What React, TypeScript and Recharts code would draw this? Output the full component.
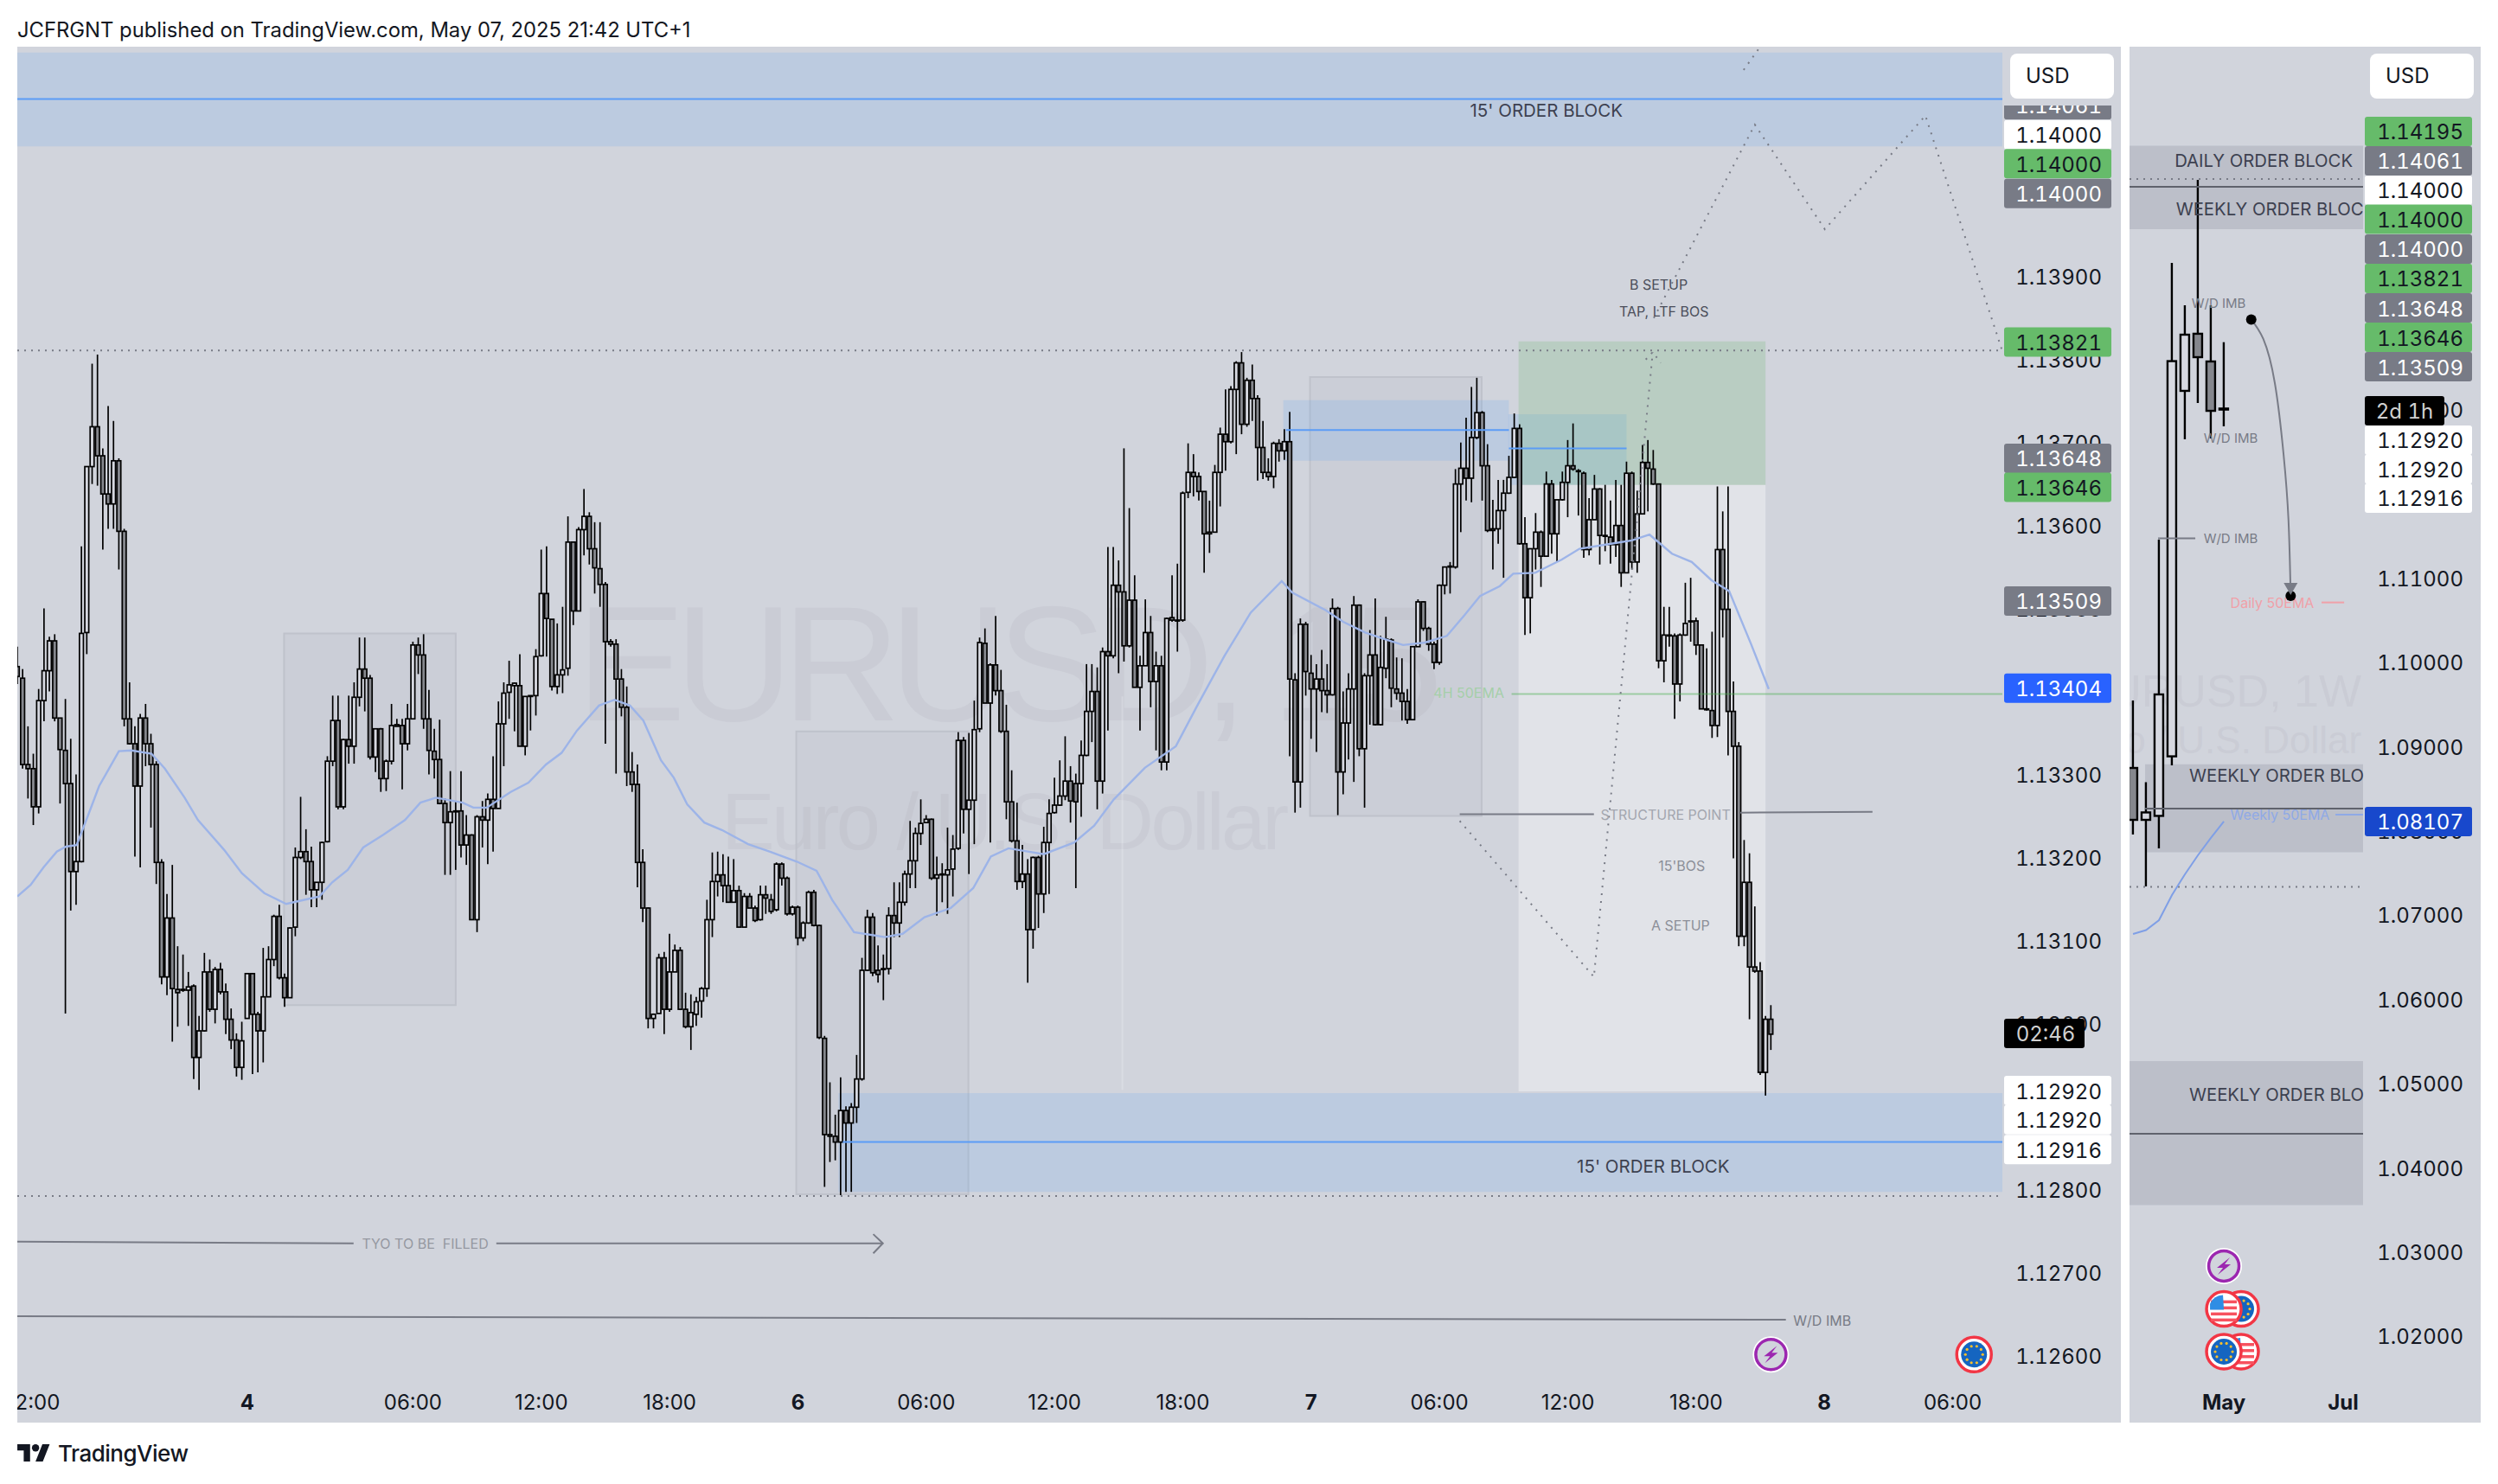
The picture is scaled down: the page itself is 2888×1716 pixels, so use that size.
import { Bar, ComposedChart, Line, ReferenceArea, ReferenceDot, ReferenceLine, XAxis, YAxis } from "recharts";

// 15 minute EURUSD candles, values are (price - 1) * 100000
const opens = [
  13430,13416,13312,13307,13261,13389,13425,13461,13368,13329,13289,13183,13195,13471,13671,13719,13684,13638,13626,13678,
  13593,13367,13337,13286,13368,13337,13312,13194,13056,13127,13041,13040,13040,13045,12959,12991,13062,13017,13065,13038,
  13005,12980,12947,13006,13060,13011,12991,13032,13077,13129,13055,13031,13116,13200,13207,13195,13161,13170,13219,13316,
  13365,13261,13342,13334,13393,13427,13416,13321,13355,13295,13316,13360,13359,13337,13367,13456,13444,13367,13328,13318,
  13265,13242,13255,13256,13215,13227,13125,13249,13245,13270,13259,13361,13399,13407,13407,13334,13395,13395,13443,13518,
  13487,13406,13420,13428,13580,13497,13595,13611,13572,13548,13529,13460,13457,13415,13381,13303,13288,13194,13139,13006,
  13012,13079,13017,13062,13088,13017,12996,13011,13027,13042,13125,13171,13179,13166,13146,13160,13116,13153,13139,13125,
  13155,13149,13137,13192,13175,13132,13140,13103,13121,13158,13118,12982,12866,12864,12857,12895,12880,12899,12933,13064,
  13128,13064,13065,13066,13130,13121,13146,13180,13196,13229,13242,13246,13175,13179,13179,13186,13211,13341,13258,13269,
  13355,13458,13386,13432,13401,13352,13267,13220,13171,13180,13113,13200,13156,13218,13254,13263,13274,13292,13289,13289,
  13323,13376,13400,13292,13448,13443,13528,13520,13455,13510,13405,13431,13471,13412,13431,13315,13489,13486,13486,13640,
  13664,13659,13641,13590,13592,13664,13710,13701,13764,13796,13722,13775,13753,13694,13664,13659,13699,13690,13701,13414,
  13291,13481,13422,13403,13415,13401,13396,13500,13303,13362,13403,13504,13331,13419,13444,13360,13428,13462,13403,13398,
  13388,13366,13454,13508,13476,13457,13435,13528,13550,13550,13650,13669,13657,13706,13736,13672,13596,13596,13618,13639,
  13658,13717,13578,13513,13572,13592,13563,13650,13590,13631,13652,13672,13666,13663,13571,13607,13644,13588,13586,13577,
  13600,13543,13663,13556,13614,13676,13668,13650,13437,13468,13467,13409,13468,13484,13485,13456,13379,13377,13359,13571,
  13499,13376,13334,13105,13170,13068,13063,12941,13005,
];
const highs = [
  13454,13427,13358,13325,13403,13500,13466,13469,13368,13391,13343,13300,13575,13671,13795,13806,13693,13744,13726,13681,
  13596,13411,13358,13373,13385,13349,13316,13198,13156,13191,13093,13083,13062,13047,13009,13085,13077,13068,13073,13048,
  13018,12988,13002,13060,13060,13014,13091,13093,13131,13143,13060,13116,13212,13273,13234,13213,13170,13219,13322,13395,
  13395,13343,13395,13411,13465,13465,13420,13355,13356,13318,13385,13367,13367,13385,13460,13465,13469,13402,13355,13366,
  13271,13304,13268,13304,13251,13228,13251,13268,13277,13322,13388,13411,13437,13411,13445,13394,13395,13451,13571,13575,
  13487,13482,13502,13611,13580,13598,13644,13616,13604,13604,13532,13463,13463,13427,13406,13327,13312,13210,13140,13012,
  13084,13086,13108,13095,13092,13037,13035,13032,13044,13149,13206,13207,13204,13201,13198,13166,13157,13157,13142,13166,
  13166,13156,13194,13194,13177,13142,13142,13123,13160,13161,13119,12985,12929,12890,12935,12900,12904,12962,13079,13137,
  13133,13094,13083,13140,13170,13170,13184,13244,13236,13270,13251,13247,13201,13193,13236,13227,13351,13345,13350,13389,
  13465,13476,13434,13491,13426,13384,13305,13266,13215,13198,13201,13202,13237,13270,13296,13317,13346,13310,13301,13341,
  13433,13433,13429,13453,13574,13574,13558,13693,13621,13540,13443,13511,13491,13448,13443,13489,13540,13554,13641,13699,
  13686,13664,13641,13630,13673,13718,13764,13768,13798,13809,13778,13794,13757,13726,13681,13701,13704,13716,13737,13422,
  13488,13484,13444,13433,13450,13433,13512,13502,13400,13422,13515,13505,13422,13474,13512,13467,13490,13464,13441,13440,
  13403,13454,13511,13509,13478,13460,13529,13550,13556,13668,13700,13730,13767,13778,13738,13698,13631,13655,13655,13684,
  13735,13722,13610,13572,13615,13594,13665,13655,13631,13665,13703,13723,13668,13665,13633,13661,13645,13649,13630,13655,
  13649,13677,13665,13642,13697,13703,13691,13650,13502,13502,13470,13470,13531,13537,13489,13456,13452,13472,13647,13617,
  13647,13412,13339,13221,13205,13141,13074,13009,13022,
];
const lows = [
  13409,13307,13271,13239,13253,13364,13400,13364,13265,13012,13136,13143,13194,13445,13650,13648,13571,13596,13596,13547,
  13358,13336,13201,13188,13310,13236,13168,13047,13034,12978,12996,13038,12997,12933,12920,12990,13014,13000,13035,12987,
  12969,12936,12932,13006,12939,12941,12953,13032,13069,13053,13020,13031,13105,13198,13155,13140,13140,13149,13218,13310,
  13258,13258,13313,13313,13382,13376,13318,13303,13279,13280,13312,13358,13282,13329,13367,13421,13355,13300,13295,13264,
  13179,13179,13185,13200,13191,13125,13110,13212,13192,13207,13259,13310,13367,13352,13334,13323,13353,13371,13442,13442,
  13401,13397,13398,13419,13480,13497,13564,13553,13518,13502,13337,13454,13301,13370,13286,13279,13164,13122,12994,12994,
  13012,12987,13014,13062,13016,12994,12968,12997,13007,13032,13104,13153,13146,13146,13146,13116,13116,13139,13122,13124,
  13132,13132,13135,13166,13130,13130,13094,13099,13120,13117,12981,12803,12833,12835,12793,12797,12797,12880,12931,13063,
  13057,13049,13028,13059,13104,13104,13142,13163,13163,13215,13242,13173,13130,13146,13132,13153,13209,13229,13180,13216,
  13351,13386,13218,13395,13350,13246,13218,13161,13163,13049,13090,13115,13133,13156,13253,13262,13269,13242,13163,13249,
  13322,13339,13258,13277,13353,13440,13422,13436,13453,13405,13353,13431,13381,13329,13305,13305,13484,13448,13484,13633,
  13635,13630,13543,13567,13592,13623,13666,13699,13686,13710,13719,13726,13654,13656,13654,13645,13677,13679,13322,13254,
  13260,13395,13343,13327,13375,13374,13395,13251,13276,13318,13291,13322,13260,13360,13359,13359,13416,13381,13390,13365,
  13361,13366,13454,13473,13449,13427,13432,13517,13518,13548,13592,13630,13628,13704,13630,13592,13547,13578,13537,13638,
  13657,13577,13468,13470,13547,13526,13563,13566,13556,13630,13610,13666,13612,13561,13564,13607,13553,13569,13554,13562,
  13526,13543,13547,13543,13614,13617,13649,13428,13411,13454,13367,13388,13467,13460,13444,13379,13377,13344,13345,13465,
  13323,13199,13093,13093,13005,13061,12938,12913,12968,
];
const closes = [
  13418,13312,13307,13261,13389,13425,13461,13368,13330,13289,13183,13195,13470,13671,13719,13684,13638,13626,13678,13593,
  13367,13337,13286,13368,13337,13312,13194,13056,13127,13042,13037,13041,13044,12959,12991,13062,13017,13065,13038,13005,
  12980,12947,12979,13060,13011,12991,13032,13077,13129,13055,13031,13115,13200,13207,13195,13161,13170,13218,13316,13365,
  13261,13342,13334,13393,13427,13416,13321,13355,13295,13316,13359,13358,13337,13367,13456,13444,13367,13329,13318,13265,
  13242,13255,13256,13215,13227,13125,13249,13245,13270,13259,13361,13398,13408,13410,13334,13394,13394,13442,13518,13488,
  13406,13420,13426,13580,13497,13595,13611,13572,13549,13529,13460,13457,13415,13381,13303,13288,13194,13139,13006,13011,
  13079,13017,13062,13088,13017,12996,13013,13026,13042,13125,13171,13179,13166,13146,13160,13116,13153,13139,13124,13155,
  13151,13135,13192,13175,13132,13140,13103,13121,13158,13118,12983,12866,12864,12857,12895,12880,12899,12933,13064,13128,
  13061,13059,13066,13130,13121,13146,13180,13196,13229,13241,13246,13175,13179,13180,13185,13210,13341,13258,13269,13354,
  13459,13386,13432,13401,13352,13267,13220,13171,13180,13113,13200,13156,13218,13253,13263,13274,13292,13268,13267,13323,
  13376,13400,13292,13448,13443,13528,13520,13455,13510,13405,13431,13471,13412,13431,13315,13488,13486,13486,13639,13664,
  13659,13641,13590,13592,13664,13710,13701,13764,13796,13722,13775,13753,13694,13664,13659,13699,13690,13701,13415,13291,
  13481,13424,13403,13415,13401,13396,13500,13303,13362,13403,13504,13331,13419,13444,13360,13429,13463,13404,13398,13388,
  13366,13454,13508,13476,13457,13435,13528,13550,13551,13650,13669,13657,13706,13736,13672,13594,13594,13618,13639,13658,
  13717,13578,13513,13572,13592,13563,13650,13590,13631,13652,13672,13668,13665,13571,13607,13644,13588,13587,13577,13600,
  13543,13663,13556,13614,13676,13669,13650,13437,13468,13467,13409,13468,13482,13485,13456,13379,13379,13359,13571,13499,
  13376,13334,13105,13170,13068,13063,12941,13005,12987,
];

// 50 EMA on the 15 minute pane, read at these bar positions
const emaBars = [
  0,2.5,4.9,7.4,9.1,11.1,13.2,15.3,16.9,19,21.4,25.1,27.6,31.3,33.8,38.7,42,46.2,50.3,54.4,56.5,58.9,61.8,64.7,68.4,72.5,75.4,78.3,83.3,85.3,87.8,92.3,95.6,98.9,101.8,104.7,108.8,111.7,114.6,117.1,120.4,122.8,125.3,
  128.5,131.8,136.7,140.8,145.8,149.5,152.4,156.5,162.3,165.6,169.7,174.6,178.8,182.1,185.4,192,197.7,201.4,205.1,210.9,216.7,220.8,225.8,230.7,236.5,238.5,244.7,248,252.1,255.3,
  259.2,263.3,267.4,270.7,273.6,277.3,279.8,283.9,288.9,292.2,297.1,302,305.3,309.5,313.2,316.9,320.2,324.3,327.6,
];
const emaValues = [
  13153,13167,13188,13207,13213,13215,13250,13286,13304,13328,13329,13325,13307,13272,13245,13209,13181,13157,13144,13150,13153,13170,13185,13212,13227,13245,13266,13272,13266,13260,13260,13279,13290,13312,13326,13353,13383,13390,13383,13365,13317,13296,13264,
  13242,13233,13216,13207,13195,13184,13149,13110,13104,13108,13128,13139,13163,13201,13211,13204,13218,13238,13270,13308,13334,13384,13443,13495,13533,13519,13498,13484,13471,13464,
  13456,13459,13467,13492,13515,13527,13542,13543,13559,13572,13577,13582,13589,13566,13556,13534,13521,13457,13403,
];

// weekly pane
const weekOpens = [1.08745, 1.08129, 1.08176, 1.08883, 1.13222, 1.139, 1.13571, 1.13012];
const weekHighs = [1.09546, 1.08576, 1.11456, 1.14741, 1.14238, 1.15727, 1.14238, 1.138];
const weekLows = [1.07955, 1.07339, 1.07791, 1.08776, 1.12647, 1.13078, 1.12657, 1.12801];
const weekCloses = [1.08129, 1.08217, 1.09618, 1.13575, 1.13889, 1.13622, 1.12985, 1.13];
const weekEma = [1.06774, 1.0682, 1.06938, 1.07236, 1.07483, 1.07708, 1.07914, 1.08109];

const dayTicks = [3, 43, 74, 98, 122, 146, 170, 194, 218, 242, 266, 290, 314, 338, 362];
const dayTickLabels = ["12:00", "4", "06:00", "12:00", "18:00", "6", "06:00", "12:00", "18:00", "7", "06:00", "12:00", "18:00", "8", "06:00"];
const dayPriceTicks = [1.14, 1.139, 1.138, 1.137, 1.136, 1.135, 1.134, 1.133, 1.132, 1.131, 1.13, 1.129, 1.128, 1.127, 1.126];
const weekTicks = [7, 16.2];
const weekTickLabels = ["May", "Jul"];
const weekPriceTicks = [1.14, 1.13, 1.12, 1.11, 1.1, 1.09, 1.08, 1.07, 1.06, 1.05, 1.04, 1.03, 1.02];

const dayTagLabels = ["1.14061", "1.14000", "1.14000", "1.14000", "1.13821", "1.13648", "1.13646", "1.13509", "1.13404", "1.12920", "1.12920", "1.12916"];
const dayTagLevels = [1.14107, 1.14071, 1.14036, 1.14, 1.13821, 1.13681, 1.13646, 1.13509, 1.13404, 1.12919, 1.12884, 1.12848];
const dayTagKinds = ["gray", "white", "green", "gray", "green", "gray", "green", "gray", "blue", "white", "white", "white"];
const weekTagLabels = ["1.14195", "1.14061", "1.14000", "1.14000", "1.14000", "1.13821", "1.13648", "1.13646", "1.13509", "1.12920", "1.12920", "1.12916", "1.08107"];
const weekTagLevels = [1.16302, 1.15953, 1.15604, 1.1526, 1.14906, 1.14557, 1.14207, 1.13858, 1.13509, 1.12637, 1.12293, 1.11949, 1.08109];
const weekTagKinds = ["green", "gray", "white", "green", "gray", "green", "gray", "green", "gray", "white", "white", "white", "deep"];

const dayRows = opens.map((open, i) => ({
  x: i,
  open: 1 + open / 1e5,
  high: 1 + highs[i] / 1e5,
  low: 1 + lows[i] / 1e5,
  close: 1 + closes[i] / 1e5,
}));
const dayEma = emaBars.map((x, i) => ({ x, y: 1 + emaValues[i] / 1e5 }));
const weekRows = weekOpens.map((open, i) => ({
  x: i,
  open,
  high: weekHighs[i],
  low: weekLows[i],
  close: weekCloses[i],
  ema: weekEma[i],
}));

const setupDown = [{ x: 269.8, y: 1.13244 }, { x: 294.9, y: 1.13056 }, { x: 305.9, y: 1.13809 }];
const setupHead = [{ x: 304.6, y: 1.138 }, { x: 305.9, y: 1.13809 }, { x: 307.4, y: 1.13796 }];
const setupUp = [{ x: 306.1, y: 1.1385 }, { x: 325, y: 1.14083 }, { x: 338.1, y: 1.13957 }, { x: 356.9, y: 1.14094 }, { x: 371.3, y: 1.1381 }];
const setupTop = [{ x: 322.9, y: 1.14149 }, { x: 325.9, y: 1.14176 }];
const tyoHead = [{ x: 160.1, y: 1.12746 }, { x: 161.9, y: 1.12735 }, { x: 160.1, y: 1.12723 }];
const weekCurve = [{ x: 9.11, y: 1.14068 }, { x: 10.04, y: 1.13838 }, { x: 10.93, y: 1.13314 }, { x: 11.6, y: 1.12472 }, { x: 11.98, y: 1.11692 }, { x: 12.15, y: 1.10789 }];

const PANE = "#d1d4dc";
const FONT = "Inter, 'Noto Sans', sans-serif";
const GRAY = "#787b86";
const BLUE = "#5b9cf6";
const DAY_MAX = 371.3;
const DAY_DOMAIN = [1.1257, 1.14177];
const WEEK_MIN = -0.27;
const WEEK_MAX = 17.73;
const WEEK_DOMAIN = [1.01476, 1.17308];

const tagStyles: Record<string, { bg: string; fg: string }> = {
  gray: { bg: "#787b86", fg: "#ffffff" },
  white: { bg: "#ffffff", fg: "#131722" },
  green: { bg: "#66bb6a", fg: "#131722" },
  blue: { bg: "#2962ff", fg: "#ffffff" },
  deep: { bg: "#1848cc", fg: "#ffffff" },
  black: { bg: "#000000", fg: "#d0d0d0" },
};

function candleShape(bodyWidth: number, strokeWidth: number) {
  return (props: any) => {
    const { x, y, width, height, payload } = props;
    const cx = x + width / 2;
    const k = height / (payload.high - payload.low);
    const yOpen = y + (payload.high - payload.open) * k;
    const yClose = y + (payload.high - payload.close) * k;
    const top = Math.min(yOpen, yClose);
    const bodyHeight = Math.max(Math.abs(yOpen - yClose), 1);
    const up = payload.close >= payload.open;
    return (
      <g>
        <line x1={cx} x2={cx} y1={y} y2={y + height} stroke="#000" strokeWidth={strokeWidth} />
        <rect
          x={cx - bodyWidth / 2}
          y={top}
          width={bodyWidth}
          height={bodyHeight}
          fill={up ? "#d6d8e0" : "#85878d"}
          stroke="#000"
          strokeWidth={strokeWidth}
        />
      </g>
    );
  };
}

function note(x: number, y: number, text: string, fontSize: number, fill: string, extra: any = {}) {
  return (
    <ReferenceDot
      key={`${text}-${x}-${y}`}
      x={x}
      y={y}
      r={0}
      ifOverflow="visible"
      shape={(p: any) => (
        <text
          x={p.cx}
          y={p.cy}
          fontSize={fontSize}
          fill={fill}
          fontFamily={FONT}
          textAnchor="middle"
          dominantBaseline="central"
          {...extra}
        >
          {text}
        </text>
      )}
    />
  );
}

function priceTag(x: number, level: number, label: string, kind: string, textOffset: number, width = 124) {
  const style = tagStyles[kind];
  return (
    <ReferenceDot
      key={`${label}-${level}`}
      x={x}
      y={level}
      r={0}
      ifOverflow="visible"
      shape={(p: any) => (
        <g>
          <rect x={p.cx + 2} y={p.cy - 17} width={width} height={34} rx={3} fill={style.bg} />
          <text
            x={p.cx + textOffset}
            y={p.cy + 1}
            fontSize={24}
            fill={style.fg}
            fontFamily={FONT}
            style={{ fontVariantNumeric: "tabular-nums" }}
            textAnchor={kind === "black" ? "middle" : "end"}
            dominantBaseline="central"
          >
            {label}
          </text>
        </g>
      )}
    />
  );
}

function Lightning({ cx, cy }: any) {
  return (
    <g>
      <circle cx={cx} cy={cy} r={21} fill="#ffffff" />
      <circle cx={cx} cy={cy} r={17.5} fill={PANE} stroke="#9c27b0" strokeWidth={3.5} />
      <path
        d={`M${cx + 7} ${cy - 10} L${cx - 8} ${cy + 2} L${cx - 1} ${cy + 2} L${cx - 7} ${cy + 10} L${cx + 8} ${cy - 2} L${cx + 1} ${cy - 2} Z`}
        fill="#9c27b0"
      />
    </g>
  );
}

function EuFlag({ cx, cy }: any) {
  const stars = [0, 1, 2, 3, 4, 5, 6, 7, 8, 9].map((n) => (n * Math.PI) / 5);
  return (
    <g>
      <circle cx={cx} cy={cy} r={20} fill="#ffffff" stroke="#f23645" strokeWidth={3.5} />
      <circle cx={cx} cy={cy} r={15} fill="#1565c0" />
      {stars.map((a) => (
        <circle key={a} cx={cx + 10 * Math.cos(a)} cy={cy + 10 * Math.sin(a)} r={1.6} fill="#fbc02d" />
      ))}
    </g>
  );
}

function UsFlag({ cx, cy }: any) {
  const rows = [-10, -3, 4, 11];
  return (
    <g>
      <circle cx={cx} cy={cy} r={20} fill="#ffffff" stroke="#f23645" strokeWidth={3.5} />
      {rows.map((r) => (
        <rect key={r} x={cx - 15} y={cy + r} width={30} height={3.5} fill="#f7525f" />
      ))}
      <path d={`M${cx - 16} ${cy + 1} L${cx - 16} ${cy - 6} A17 17 0 0 1 ${cx - 1} ${cy - 16} L${cx} ${cy + 1} Z`} fill="#2f8de4" />
    </g>
  );
}

function icon(x: number, y: number, Shape: any, key: string) {
  return <ReferenceDot key={key} x={x} y={y} r={0} ifOverflow="visible" shape={(p: any) => <Shape cx={p.cx} cy={p.cy} />} />;
}

function timeTick(labels: string[], ticks: number[]) {
  return (props: any) => {
    const { x, y, payload } = props;
    const label = labels[ticks.indexOf(payload.value)];
    const strong = label.length === 1 || label === "May" || label === "Jul";
    return (
      <text
        x={x}
        y={y + 23}
        fontSize={24}
        fontWeight={strong ? 700 : 400}
        fill="#131722"
        fontFamily={FONT}
        textAnchor="middle"
        dominantBaseline="central"
      >
        {label}
      </text>
    );
  };
}

function priceTick(offset: number) {
  return (props: any) => (
    <text
      x={props.x + offset}
      y={props.y + 1}
      fontSize={24}
      fill="#131722"
      fontFamily={FONT}
      style={{ fontVariantNumeric: "tabular-nums" }}
      textAnchor="end"
      dominantBaseline="central"
    >
      {Number(props.payload.value).toFixed(5)}
    </text>
  );
}

const dotted = { stroke: GRAY, strokeWidth: 2, strokeDasharray: "2 7", dot: false, isAnimationActive: false, type: "linear" as const };
const flat = (x1: number, y1: number, x2: number, y2: number) =>
  [
    { x: x1, y: y1 },
    { x: x2, y: y2 },
  ] as any;

// transparent layer with the same scales as a pane, for what sits under or over the candles
function Layer({ width, yWidth, xDomain, yDomain, children }: any) {
  return (
    <div style={{ position: "absolute", left: 0, top: 0 }}>
      <ComposedChart width={width} height={1591} data={[]} margin={{ top: 0, right: 0, bottom: 0, left: 0 }}>
        <XAxis dataKey="x" type="number" domain={xDomain} allowDataOverflow height={49} axisLine={false} tickLine={false} tick={false} />
        <YAxis type="number" orientation="right" domain={yDomain} allowDataOverflow width={yWidth} axisLine={false} tickLine={false} tick={false} />
        {children}
      </ComposedChart>
    </div>
  );
}

function DayChart() {
  return (
    <div style={{ position: "absolute", left: 0, top: 0 }}>
      <ComposedChart width={2432} height={1591} data={dayRows} margin={{ top: 0, right: 0, bottom: 0, left: 0 }}>
        <XAxis
          dataKey="x"
          type="number"
          domain={[0, DAY_MAX]}
          allowDataOverflow
          ticks={dayTicks}
          interval={0}
          height={49}
          axisLine={false}
          tickLine={false}
          tickSize={0}
          tick={timeTick(dayTickLabels, dayTicks)}
        />
        <YAxis
          type="number"
          orientation="right"
          domain={DAY_DOMAIN}
          allowDataOverflow
          ticks={dayPriceTicks}
          interval={0}
          width={137}
          axisLine={false}
          tickLine={false}
          tickSize={0}
          tickMargin={0}
          tick={priceTick(115)}
        />

        <ReferenceArea x1={49.9} x2={82} y1={1.1347} y2={1.13022} fill={GRAY} fillOpacity={0.06} stroke="#bfc2cb" strokeWidth={2} ifOverflow="visible" />
        <ReferenceArea x1={145.7} x2={177.9} y1={1.13352} y2={1.12794} fill={GRAY} fillOpacity={0.06} stroke="#bfc2cb" strokeWidth={2} ifOverflow="visible" />
        <ReferenceArea x1={241.8} x2={273.9} y1={1.13779} y2={1.1325} fill={GRAY} fillOpacity={0.06} stroke="#bfc2cb" strokeWidth={2} ifOverflow="visible" />
        <ReferenceArea x1={0} x2={DAY_MAX} y1={1.1417} y2={1.14057} fill="#4c98f7" fillOpacity={0.15} ifOverflow="visible" />
        <ReferenceArea x1={153.6} x2={DAY_MAX} y1={1.12916} y2={1.12797} fill="#4c98f7" fillOpacity={0.15} ifOverflow="visible" />
        <ReferenceArea x1={236.8} x2={279} y1={1.13751} y2={1.13678} fill="#4c98f7" fillOpacity={0.15} ifOverflow="visible" />
        <ReferenceArea x1={278.9} x2={301} y1={1.13734} y2={1.13649} fill="#4c98f7" fillOpacity={0.15} ifOverflow="visible" />
        <ReferenceArea x1={280.8} x2={327} y1={1.13822} y2={1.13649} fill="#4caf50" fillOpacity={0.18} ifOverflow="visible" />
        <ReferenceArea x1={280.8} x2={327} y1={1.13649} y2={1.12918} fill="#ffffff" fillOpacity={0.35} ifOverflow="visible" />

        <ReferenceLine segment={flat(206.7, 1.13394, 206.7, 1.1292)} stroke="#ffffff" strokeOpacity={0.2} strokeWidth={2} />
        <ReferenceLine segment={flat(0, 1.14114, DAY_MAX, 1.14114)} stroke={BLUE} strokeWidth={2} />
        <ReferenceLine segment={flat(154.4, 1.12857, DAY_MAX, 1.12857)} stroke={BLUE} strokeWidth={2} />
        <ReferenceLine segment={flat(237.3, 1.13715, 279, 1.13715)} stroke={BLUE} strokeWidth={2} />
        <ReferenceLine segment={flat(279, 1.13693, 301, 1.13693)} stroke={BLUE} strokeWidth={2} />
        <ReferenceLine segment={flat(279.5, 1.13397, DAY_MAX, 1.13397)} stroke="#4caf50" strokeOpacity={0.45} strokeWidth={2} />
        <ReferenceLine segment={flat(269.8, 1.13252, 294.9, 1.13252)} stroke={GRAY} strokeWidth={2} />
        <ReferenceLine segment={flat(322.3, 1.13254, 347, 1.13255)} stroke={GRAY} strokeWidth={2} />
        <ReferenceLine segment={flat(0, 1.12737, 62.9, 1.12735)} stroke={GRAY} strokeWidth={2} />
        <ReferenceLine segment={flat(89.6, 1.12735, 161.9, 1.12735)} stroke={GRAY} strokeWidth={2} />
        <ReferenceLine segment={flat(0, 1.12647, 330.8, 1.12643)} stroke={GRAY} strokeWidth={2} />
        <ReferenceLine segment={flat(0, 1.13811, DAY_MAX, 1.13811)} stroke={GRAY} strokeWidth={2} strokeDasharray="2 6" />
        <ReferenceLine segment={flat(0, 1.12792, DAY_MAX, 1.12792)} stroke={GRAY} strokeWidth={2} strokeDasharray="2 6" />

        <Line data={dayEma} dataKey="y" type="linear" stroke="#9db4e8" strokeWidth={2.4} dot={false} isAnimationActive={false} />
        <Bar dataKey={(d: any) => [d.low, d.high]} barSize={6} shape={candleShape(4.6, 1.7)} isAnimationActive={false} />

        <Line data={setupDown} dataKey="y" {...dotted} />
        <Line data={setupHead} dataKey="y" {...dotted} />
        <Line data={setupUp} dataKey="y" {...dotted} />
        <Line data={setupTop} dataKey="y" {...dotted} />
        <Line data={tyoHead} dataKey="y" type="linear" stroke={GRAY} strokeWidth={2} dot={false} isAnimationActive={false} />

        {note(286, 1.141, "15' ORDER BLOCK", 20.5, "#3d4150")}
        {note(306, 1.12828, "15' ORDER BLOCK", 20.5, "#3d4150")}
        {note(307, 1.1389, "B SETUP", 16, "#4b4e5a")}
        {note(308, 1.13858, "TAP, LTF BOS", 16, "#4b4e5a")}
        {note(308.3, 1.13252, "STRUCTURE POINT", 16, "#a3a6af")}
        {note(311.3, 1.1319, "15'BOS", 16, "#8c8f98")}
        {note(311.1, 1.13118, "A SETUP", 16, "#8c8f98")}
        {note(271.5, 1.13398, "4H 50EMA", 16, "#a5cfa9")}
        {note(76.3, 1.12735, "TYO TO BE  FILLED", 16, "#9598a1", { xmlSpace: "preserve" })}
        {note(337.6, 1.12642, "W/D IMB", 16, "#787b86")}

        {icon(328, 1.12601, Lightning, "bolt")}
        {icon(366, 1.12601, EuFlag, "eu")}
      </ComposedChart>
    </div>
  );
}

function WeekChart() {
  return (
    <div style={{ position: "absolute", left: 0, top: 0 }}>
      <ComposedChart width={406} height={1591} data={weekRows} margin={{ top: 0, right: 0, bottom: 0, left: 0 }}>
        <XAxis
          dataKey="x"
          type="number"
          domain={[WEEK_MIN, WEEK_MAX]}
          allowDataOverflow
          ticks={weekTicks}
          interval={0}
          height={49}
          axisLine={false}
          tickLine={false}
          tickSize={0}
          tick={timeTick(weekTickLabels, weekTicks)}
        />
        <YAxis
          type="number"
          orientation="right"
          domain={WEEK_DOMAIN}
          allowDataOverflow
          ticks={weekPriceTicks}
          interval={0}
          width={136}
          axisLine={false}
          tickLine={false}
          tickSize={0}
          tickMargin={0}
          tick={priceTick(116)}
        />

        <ReferenceArea x1={WEEK_MIN} x2={WEEK_MAX} y1={1.16132} y2={1.15142} fill="#bcbfc9" fillOpacity={1} ifOverflow="visible" />
        <ReferenceArea x1={0.93} x2={WEEK_MAX} y1={1.08789} y2={1.07745} fill="#bcbfc9" fillOpacity={1} ifOverflow="visible" />
        <ReferenceArea x1={WEEK_MIN} x2={WEEK_MAX} y1={1.05265} y2={1.03554} fill="#bcbfc9" fillOpacity={1} ifOverflow="visible" />

        <ReferenceLine segment={flat(WEEK_MIN, 1.15645, WEEK_MAX, 1.15645)} stroke="#5f626c" strokeWidth={2} />
        <ReferenceLine segment={flat(WEEK_MIN, 1.15737, 17.5, 1.15737)} stroke={GRAY} strokeWidth={2} strokeDasharray="2 6" />
        <ReferenceLine segment={flat(WEEK_MIN, 1.07333, 17.5, 1.07333)} stroke={GRAY} strokeWidth={2} strokeDasharray="2 6" />
        <ReferenceLine segment={flat(0.93, 1.08263, WEEK_MAX, 1.08263)} stroke="#5f626c" strokeWidth={2} />
        <ReferenceLine segment={flat(WEEK_MIN, 1.04402, WEEK_MAX, 1.04402)} stroke="#5f626c" strokeWidth={2} />
        <ReferenceLine segment={flat(1.93, 1.1147, 4.8, 1.1147)} stroke={GRAY} strokeWidth={2} />
        <ReferenceLine segment={flat(14.53, 1.1071, 16.27, 1.1071)} stroke="#f0a0a8" strokeWidth={2} />
        <ReferenceLine segment={flat(15.6, 1.08191, WEEK_MAX, 1.08191)} stroke="#8fa9e6" strokeWidth={2} />

        <Line dataKey="ema" type="linear" stroke="#7f9fe6" strokeWidth={2} dot={false} isAnimationActive={false} />
        <Bar dataKey={(d: any) => [d.low, d.high]} barSize={12} shape={candleShape(10, 2.4)} isAnimationActive={false} />

        <Line data={weekCurve} dataKey="y" type="natural" stroke={GRAY} strokeWidth={2} dot={false} isAnimationActive={false} />

        {note(10.07, 1.15953, "DAILY ORDER BLOCK", 20.3, "#3d4150")}
        {note(3.31, 1.15378, "WEEKLY ORDER BLOC", 20.3, "#3d4150", { textAnchor: "start" })}
        {note(4.33, 1.08659, "WEEKLY ORDER BLO", 20.3, "#3d4150", { textAnchor: "start" })}
        {note(4.33, 1.04869, "WEEKLY ORDER BLO", 20.3, "#3d4150", { textAnchor: "start" })}
        {note(6.6, 1.14259, "W/D IMB", 15, "#787b86")}
        {note(7.53, 1.12667, "W/D IMB", 15, "#787b86")}
        {note(7.53, 1.1147, "W/D IMB", 15, "#787b86")}
        {note(10.73, 1.1071, "Daily 50EMA", 16, "#f0a0a8")}
        {note(11.33, 1.08191, "Weekly 50EMA", 16, "#8fa9e6")}

        <ReferenceDot x={9.11} y={1.14068} r={6} fill="#000" stroke="none" />
        <ReferenceDot x={12.15} y={1.10789} r={6} fill="#000" stroke="none" />
        <ReferenceDot
          x={12.15}
          y={1.10881}
          r={0}
          shape={(p: any) => <path d={`M${p.cx - 8} ${p.cy - 6} L${p.cx + 8} ${p.cy - 6} L${p.cx} ${p.cy + 8} Z`} fill={GRAY} />}
        />

        {icon(8.33, 1.02322, EuFlag, "eu-back")}
        {icon(7, 1.02322, UsFlag, "us-front")}
        {icon(8.33, 1.01815, UsFlag, "us-back")}
        {icon(7, 1.01815, EuFlag, "eu-front")}
        {icon(7, 1.02832, Lightning, "bolt-week")}
      </ComposedChart>
    </div>
  );
}

const usdBox = (left: number) => (
  <div
    style={{
      position: "absolute",
      left,
      top: 62,
      width: 120,
      height: 52,
      background: "#fff",
      borderRadius: 8,
      fontSize: 24,
      lineHeight: "52px",
      paddingLeft: 18,
      boxSizing: "border-box",
      color: "#131722",
    }}
  >
    USD
  </div>
);

export default function App() {
  return (
    <div style={{ position: "absolute", left: 0, top: 0, width: 2888, height: 1716, background: "#fff", fontFamily: FONT, overflow: "hidden" }}>
      <div style={{ position: "absolute", left: 20, top: 20, fontSize: 23.8, lineHeight: "30px", color: "#131722", whiteSpace: "nowrap" }}>
        JCFRGNT published on TradingView.com, May 07, 2025 21:42 UTC+1
      </div>

      <div style={{ position: "absolute", left: 20, top: 54, width: 2432, height: 1591, background: PANE }}>
        <Layer width={2432} yWidth={137} xDomain={[0, DAY_MAX]} yDomain={DAY_DOMAIN}>
          {note(185.6, 1.13434, "EURUSD, 15", 190, "#caccd5", { fontFamily: "'Liberation Sans'", textLength: 1002 })}
          {note(184.8, 1.13243, "Euro / U.S. Dollar", 92, "#caccd5", { fontFamily: "'Liberation Sans'", textLength: 656 })}
        </Layer>
        <DayChart />
        <Layer width={2432} yWidth={137} xDomain={[0, DAY_MAX]} yDomain={DAY_DOMAIN}>
          {dayTagLabels.map((label, i) => priceTag(DAY_MAX, dayTagLevels[i], label, dayTagKinds[i], 115))}
          {priceTag(DAY_MAX, 1.12988, "02:46", "black", 50, 93)}
        </Layer>
      </div>
      <div style={{ position: "absolute", left: 2317, top: 54, width: 135, height: 68, background: PANE }} />
      {usdBox(2324)}

      <div style={{ position: "absolute", left: 2462, top: 54, width: 406, height: 1591, background: PANE }}>
        <Layer width={406} yWidth={136} xDomain={[WEEK_MIN, WEEK_MAX]} yDomain={WEEK_DOMAIN}>
          {note(17.6, 1.0966, "EURUSD, 1W", 52, "#caccd5", { fontFamily: "'Liberation Sans'", textAnchor: "end" })}
          {note(17.6, 1.09074, "Euro / U.S. Dollar", 44, "#caccd5", { fontFamily: "'Liberation Sans'", textAnchor: "end" })}
        </Layer>
        <WeekChart />
        <Layer width={406} yWidth={136} xDomain={[WEEK_MIN, WEEK_MAX]} yDomain={WEEK_DOMAIN}>
          {weekTagLabels.map((label, i) => priceTag(WEEK_MAX, weekTagLevels[i], label, weekTagKinds[i], 116))}
          {priceTag(WEEK_MAX, 1.12986, "2d 1h", "black", 48, 92)}
        </Layer>
      </div>
      {usdBox(2740)}

      <svg style={{ position: "absolute", left: 20, top: 1670 }} width={38} height={20} viewBox="0 0 36 19">
        <path d="M14 19H7V7H0V0h14v19zM28 19h-8L27.5 0h8L28 19z" fill="#131722" />
        <circle cx={20} cy={4} r={4} fill="#131722" />
      </svg>
      <div style={{ position: "absolute", left: 67, top: 1664, fontSize: 26, lineHeight: "34px", fontWeight: 500, color: "#131722", letterSpacing: -0.5 }}>
        TradingView
      </div>
    </div>
  );
}
